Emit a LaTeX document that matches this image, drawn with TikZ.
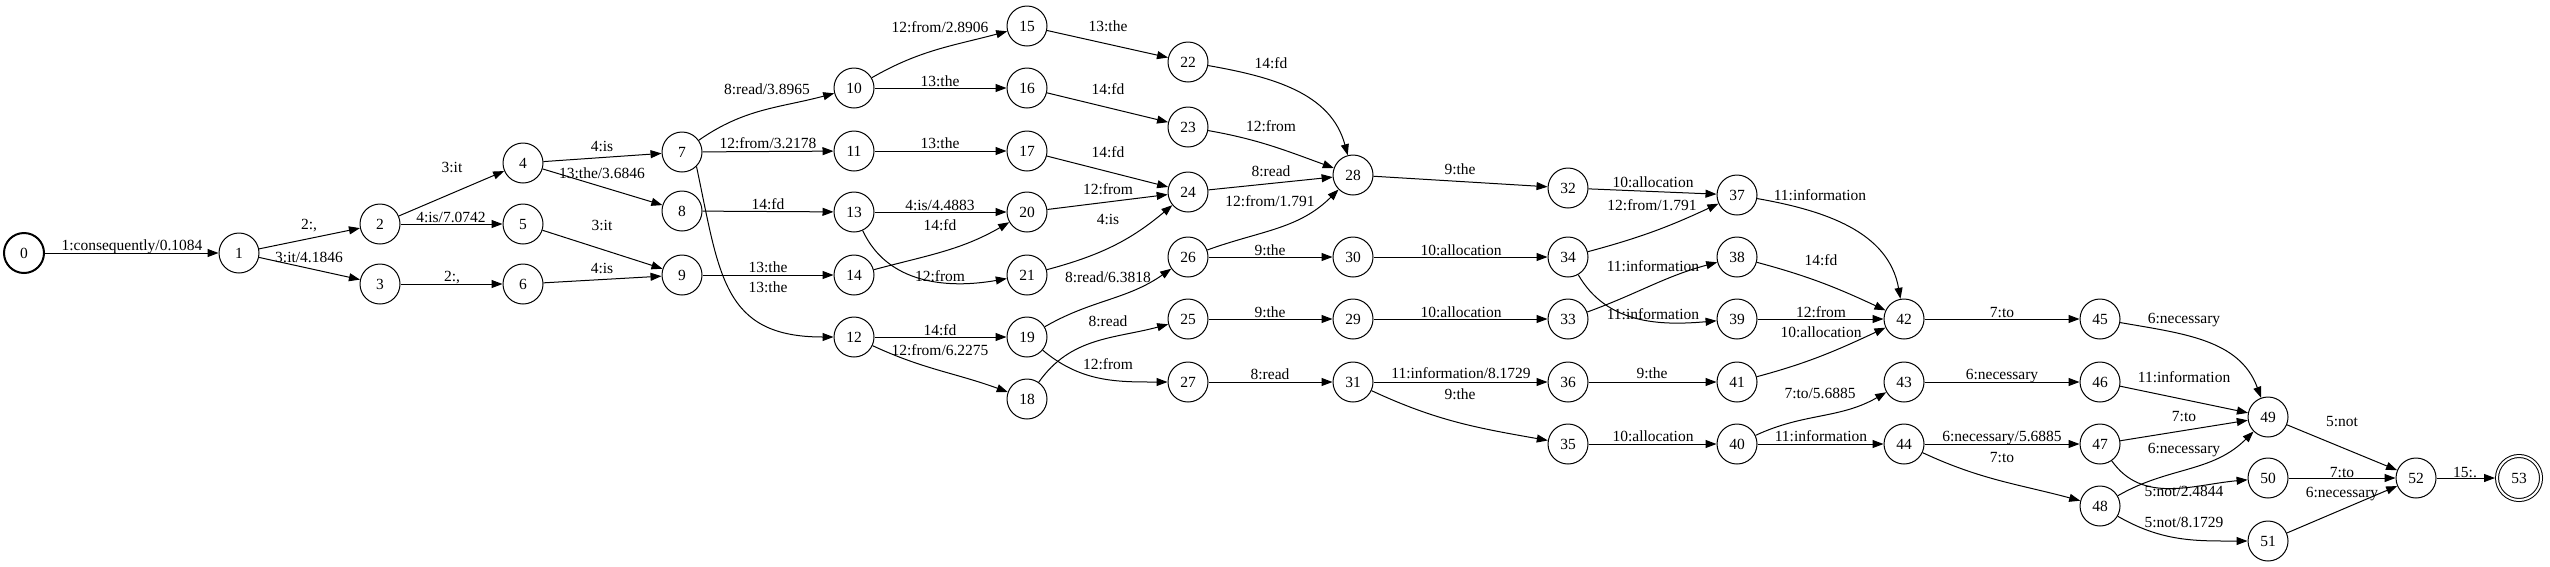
\documentclass[tikz,border=0pt]{standalone}
\usepackage{fontspec}
\setmainfont{Liberation Serif}
\usetikzlibrary{arrows.meta}

\begin{document}
\begin{tikzpicture}[x=1pt,y=1pt,
  state/.style={draw,circle,minimum size=40pt,inner sep=0pt,line width=1pt,font=\fontsize{15.5}{18}\selectfont,text height=10pt,text depth=0pt},
  init/.style={state,line width=2pt},
  final/.style={state,double,double distance=2pt,minimum size=44pt,outer sep=2pt},
  lbl/.style={inner sep=0pt,font=\fontsize{15.5}{18}\selectfont,text height=10pt,text depth=0pt},
  arc/.style={line width=1pt,-{Triangle[length=11pt,width=8pt]}}]
\useasboundingbox (0,0) rectangle (2550,-566);
\node[init] (s0) at (24,-253) {0};
\foreach \n/\x/\y in {1/239/-253,2/380/-224,3/380/-284,4/523/-163,5/523/-224,6/523/-284,
  7/682/-152,8/682/-211,9/682/-275,10/854/-88,11/854/-151,12/854/-337,13/854/-212,14/854/-275,
  15/1027/-26,16/1027/-88,17/1027/-151,18/1027/-399,19/1027/-337,20/1027/-212,21/1027/-275,
  22/1188/-62,23/1188/-127,24/1188/-192,25/1188/-319,26/1188/-257,27/1188/-382,
  28/1353/-175,29/1353/-319,30/1353/-257,31/1353/-382,32/1568/-188,33/1568/-319,34/1568/-257,
  35/1568/-444,36/1568/-382,37/1737/-195,38/1737/-257,39/1737/-319,40/1737/-444,41/1737/-382,
  42/1904/-319,43/1904/-382,44/1904/-444,45/2100/-319,46/2100/-382,47/2100/-444,48/2100/-506,
  49/2268/-417,50/2268/-478,51/2268/-541,52/2416/-478}
  \node[state] (s\n) at (\x,\y) {\n};
\node[final] (s53) at (2519,-478) {53};
  \draw[arc] (s0) -- (s1) node[lbl] at (132,-245) {1:consequently/0.1084};
  \draw[arc] (s1) -- (s2) node[lbl] at (309,-224) {2:,};
  \draw[arc] (s1) -- (s3) node[lbl] at (309,-257) {3:it/4.1846};
  \draw[arc] (s2) -- (s4) node[lbl] at (452,-167) {3:it};
  \draw[arc] (s2) -- (s5) node[lbl] at (451,-217) {4:is/7.0742};
  \draw[arc] (s3) -- (s6) node[lbl] at (452,-276) {2:,};
  \draw[arc] (s4) -- (s7) node[lbl] at (602,-146) {4:is};
  \draw[arc] (s4) -- (s8) node[lbl] at (602,-173) {13:the/3.6846};
  \draw[arc] (s5) -- (s9) node[lbl] at (602,-225) {3:it};
  \draw[arc] (s6) -- (s9) node[lbl] at (602,-268) {4:is};
  \draw[arc] (s7) to[out=35,in=195] (s10) node[lbl] at (767,-89) {8:read/3.8965};
  \draw[arc] (s7) -- (s11) node[lbl] at (768,-143) {12:from/3.2178};
  \draw[arc] (s8) -- (s13) node[lbl] at (768,-204) {14:fd};
  \draw[arc] (s9) -- (s14) node[lbl] at (768,-267) {13:the};
  \draw[arc] (s7.-45) to[out=-78,in=180,looseness=1.3] (s12) node[lbl] at (768,-287) {13:the};
  \draw[arc] (s10) to[out=30,in=195] (s15) node[lbl] at (940,-27) {12:from/2.8906};
  \draw[arc] (s10) -- (s16) node[lbl] at (940,-81) {13:the};
  \draw[arc] (s11) -- (s17) node[lbl] at (940,-143) {13:the};
  \draw[arc] (s13) -- (s20) node[lbl] at (940,-205) {4:is/4.4883};
  \draw[arc] (s14) to[out=15,in=210] (s20) node[lbl] at (940,-225) {14:fd};
  \draw[arc] (s13) to[out=-65,in=190] (s21) node[lbl] at (940,-276) {12:from};
  \draw[arc] (s12) -- (s19) node[lbl] at (940,-330) {14:fd};
  \draw[arc] (s12) to[out=-25,in=160] (s18) node[lbl] at (940,-350) {12:from/6.2275};
  \draw[arc] (s15) -- (s22) node[lbl] at (1108,-26) {13:the};
  \draw[arc] (s16) -- (s23) node[lbl] at (1108,-89) {14:fd};
  \draw[arc] (s17) -- (s24) node[lbl] at (1108,-152) {14:fd};
  \draw[arc] (s20) -- (s24) node[lbl] at (1108,-189) {12:from};
  \draw[arc] (s21) to[out=15,in=220] (s24) node[lbl] at (1108,-219) {4:is};
  \draw[arc] (s19) to[out=30,in=215] (s26) node[lbl] at (1108,-277) {8:read/6.3818};
  \draw[arc] (s18) to[out=55,in=195] (s25) node[lbl] at (1108,-321) {8:read};
  \draw[arc] (s19) to[out=-40,in=180] (s27) node[lbl] at (1108,-364) {12:from};
  \draw[arc] (s22) to[out=-10,in=105] (s28) node[lbl] at (1271,-63) {14:fd};
  \draw[arc] (s23) to[out=-10,in=160] (s28) node[lbl] at (1271,-126) {12:from};
  \draw[arc] (s24) -- (s28) node[lbl] at (1271,-171) {8:read};
  \draw[arc] (s26) to[out=20,in=225] (s28) node[lbl] at (1270,-201) {12:from/1.791};
  \draw[arc] (s26) -- (s30) node[lbl] at (1270,-250) {9:the};
  \draw[arc] (s25) -- (s29) node[lbl] at (1270,-312) {9:the};
  \draw[arc] (s27) -- (s31) node[lbl] at (1270,-374) {8:read};
  \draw[arc] (s28) -- (s32) node[lbl] at (1460,-169) {9:the};
  \draw[arc] (s30) -- (s34) node[lbl] at (1461,-250) {10:allocation};
  \draw[arc] (s29) -- (s33) node[lbl] at (1461,-312) {10:allocation};
  \draw[arc] (s31) -- (s36) node[lbl] at (1461,-373) {11:information/8.1729};
  \draw[arc] (s31) to[out=-25,in=170] (s35) node[lbl] at (1460,-394) {9:the};
  \draw[arc] (s32) -- (s37) node[lbl] at (1653,-182) {10:allocation};
  \draw[arc] (s34) to[out=15,in=205] (s37) node[lbl] at (1652,-205) {12:from/1.791};
  \draw[arc] (s33) to[out=20,in=195] (s38) node[lbl] at (1653,-266) {11:information};
  \draw[arc] (s34) to[out=-60,in=185] (s39) node[lbl] at (1653,-314) {11:information};
  \draw[arc] (s36) -- (s41) node[lbl] at (1652,-373) {9:the};
  \draw[arc] (s35) -- (s40) node[lbl] at (1653,-436) {10:allocation};
  \draw[arc] (s37) to[out=-10,in=100] (s42) node[lbl] at (1820,-195) {11:information};
  \draw[arc] (s38) to[out=-15,in=155] (s42) node[lbl] at (1821,-260) {14:fd};
  \draw[arc] (s39) -- (s42) node[lbl] at (1821,-312) {12:from};
  \draw[arc] (s41) to[out=15,in=205] (s42) node[lbl] at (1821,-332) {10:allocation};
  \draw[arc] (s40) to[out=25,in=210] (s43) node[lbl] at (1820,-393) {7:to/5.6885};
  \draw[arc] (s40) -- (s44) node[lbl] at (1821,-436) {11:information};
  \draw[arc] (s42) -- (s45) node[lbl] at (2002,-312) {7:to};
  \draw[arc] (s43) -- (s46) node[lbl] at (2002,-374) {6:necessary};
  \draw[arc] (s44) -- (s47) node[lbl] at (2002,-436) {6:necessary/5.6885};
  \draw[arc] (s44) to[out=-25,in=165] (s48) node[lbl] at (2002,-457) {7:to};
  \draw[arc] (s45) to[out=-10,in=110] (s49) node[lbl] at (2184,-318) {6:necessary};
  \draw[arc] (s46) -- (s49) node[lbl] at (2184,-377) {11:information};
  \draw[arc] (s47) -- (s49) node[lbl] at (2184,-416) {7:to};
  \draw[arc] (s48) to[out=30,in=225] (s49) node[lbl] at (2184,-448) {6:necessary};
  \draw[arc] (s47) to[out=-55,in=185] (s50) node[lbl] at (2184,-491) {5:not/2.4844};
  \draw[arc] (s48) to[out=-30,in=180] (s51) node[lbl] at (2184,-522) {5:not/8.1729};
  \draw[arc] (s49) -- (s52) node[lbl] at (2342,-421) {5:not};
  \draw[arc] (s50) -- (s52) node[lbl] at (2342,-472) {7:to};
  \draw[arc] (s51) -- (s52) node[lbl] at (2342,-492) {6:necessary};
  \draw[arc] (s52) -- (s53) node[lbl] at (2465,-472) {15:.};
\end{tikzpicture}
\end{document}
